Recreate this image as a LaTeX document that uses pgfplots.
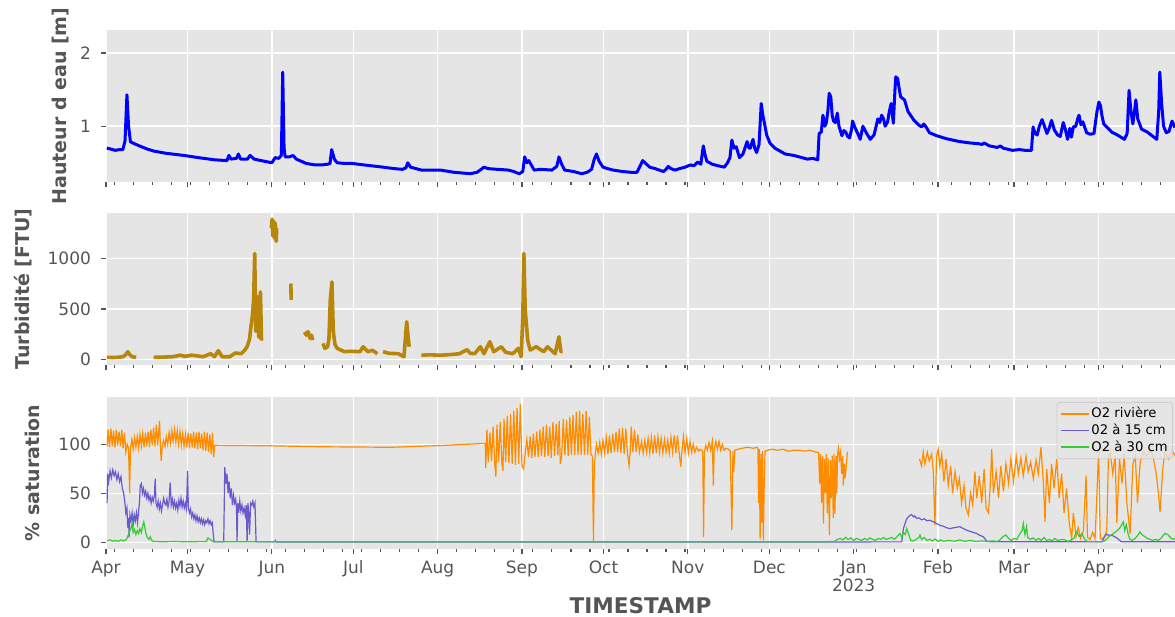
\documentclass[border=0pt]{standalone}
\usepackage{fontspec}
\setmainfont{DejaVu Sans}
\usepackage{pgfplots}
\pgfplotsset{compat=1.18}

\definecolor{ggbg}{HTML}{E5E5E5}
\definecolor{gggray}{HTML}{555555}
\definecolor{ggedge}{HTML}{CCCCCC}
\definecolor{hblue}{HTML}{0000FF}
\definecolor{turb}{HTML}{B8860B}
\definecolor{o2riv}{HTML}{FF8C00}
\definecolor{o2a}{HTML}{6A5ACD}
\definecolor{o2b}{HTML}{32CD32}

% x = days since 2022-04-01
\pgfplotsset{
  ggpanel/.style={
    scale only axis, width=534.5pt, height=76pt,
    anchor=south west,
    xmin=0, xmax=393.2,
    axis background/.style={fill=ggbg},
    axis line style={draw=none},
    grid=major, major grid style={white, line width=0.8pt},
    tick align=outside, xtick pos=left, ytick pos=left,
    major tick length=2.5pt, minor tick length=1.3pt,
    tick style={gggray, line width=0.6pt},
    tick label style={font=\fontsize{8.5}{9}\selectfont, text=gggray},
    yticklabel style={xshift=-1.5pt},
    xtick={0,30,61,91,122,153,183,214,244,275,306,334,365},
    minor xtick={3,10,...,388},
    ylabel style={font=\bfseries\fontsize{9.5}{11}\selectfont, text=gggray, anchor=center},
    scaled y ticks=false,
    unbounded coords=jump,
    /pgf/number format/1000 sep={},
    /pgf/number format/assume math mode=true,
  }
}

\begin{document}
\begin{tikzpicture}

% hauteur d'eau
\begin{axis}[ggpanel, at={(53pt,217.5pt)},
  ymin=0.237, ymax=2.315, ytick={1,2}, xticklabels={},
  ylabel={Hauteur d eau [m]},
  ylabel style={at={(axis description cs:-0.043,0.5)}}]
\addplot[hblue, line width=1.5pt, line join=round] coordinates {
(0.3,0.70) (1.5,0.69) (3.4,0.67) (5,0.68) (6.2,0.68) (7,0.80) (7.7,1.43) (8.3,1.0) (9.0,0.785)
(10.5,0.76) (12.3,0.73) (15,0.69) (17.5,0.66) (22,0.63) (28.7,0.60) (34,0.57) (40,0.54)
(44.5,0.53) (45.2,0.60) (46,0.55) (48,0.56) (48.7,0.62) (49.5,0.55) (52,0.55) (53,0.60)
(54.5,0.55) (57,0.53) (59.7,0.51) (61,0.50) (62.2,0.57) (63.5,0.56) (64.5,0.6) (65,1.74)
(65.5,0.7) (65.9,0.58) (67.5,0.58) (68.8,0.6) (70,0.55) (73.7,0.49) (77,0.47) (79.3,0.47)
(81.5,0.48) (82.4,0.49) (83,0.68) (84,0.55) (85,0.50) (88,0.49) (90.6,0.49) (95,0.47)
(101.9,0.44) (106,0.42) (109,0.41) (110.3,0.43) (111,0.50) (112,0.44) (113,0.43) (116,0.40)
(120,0.40) (123,0.40) (128,0.37) (134,0.35) (136.5,0.37) (138,0.41) (139,0.44) (140.5,0.42)
(144,0.41) (148,0.40) (150,0.38) (152,0.35) (153.3,0.38) (154,0.58) (154.8,0.50) (155.5,0.53)
(157.5,0.40) (160,0.41) (164,0.40) (165.8,0.45) (166.6,0.58) (167.6,0.48) (168.7,0.40)
(172,0.38) (175,0.35) (177,0.37) (178.6,0.41) (179.6,0.55) (180.4,0.62) (181.4,0.52)
(182.8,0.44) (184.5,0.42) (186.5,0.40) (190,0.38) (193,0.37) (195.3,0.37) (196.4,0.45)
(197.4,0.53) (198.5,0.49) (200,0.44) (202,0.42) (205,0.38) (206,0.41) (206.8,0.45)
(207.8,0.42) (209.3,0.40) (211,0.42) (213,0.44) (214.9,0.47) (216.3,0.46) (217.6,0.51)
(218.8,0.48) (219.7,0.73) (220.4,0.6) (221,0.52) (223,0.48) (225,0.46) (227.4,0.44)
(228.6,0.50) (229.5,0.57) (230.2,0.81) (231,0.70) (231.8,0.72) (233,0.57) (234.3,0.62)
(235.8,0.79) (236.5,0.70) (237,0.70) (237.6,0.78) (238,0.82) (238.6,0.70) (239.3,0.64)
(240.2,0.75) (241,1.31) (241.6,1.15) (242.3,1.02) (243,0.88) (244.2,0.77) (246,0.70)
(249.8,0.62) (253,0.60) (256,0.57) (258,0.55) (260,0.56) (261.8,0.54) (262.3,0.90)
(263.1,0.92) (263.7,1.15) (264.4,1.00) (264.9,1.04) (265.5,1.20) (266,1.45) (266.6,1.40)
(267.1,1.15) (267.6,1.07) (268.3,1.05) (269,1.18) (269.6,1.00) (270.7,0.87) (271.4,0.94)
(272.1,0.92) (272.8,0.86) (273.5,0.84) (274.2,0.95) (274.6,1.07) (275.5,0.98) (276.5,0.90)
(277.4,0.82) (278.4,1.00) (279.5,0.92) (281.1,0.82) (282.5,0.88) (283.9,1.10) (284.6,1.05)
(285.3,1.15) (286,1.10) (286.6,1.00) (287.5,1.06) (288.1,1.20) (288.8,1.31) (289.6,1.04)
(290.2,1.5) (290.5,1.675) (291.2,1.65) (291.8,1.50) (292.3,1.40) (293.7,1.36) (295,1.20)
(297.2,1.08) (298.8,1.02) (300,0.99) (300.8,1.03) (301.8,0.98) (302.9,0.91) (305.5,0.87)
(309,0.83) (313.9,0.79) (318,0.77) (321,0.76) (322.2,0.75) (323,0.77) (325,0.73)
(327.8,0.71) (329,0.73) (330,0.70) (333.4,0.67) (336,0.68) (338,0.67) (340.4,0.67)
(341,0.99) (341.7,0.90) (342.5,0.88) (343.3,1.0) (344.3,1.09) (345,1.02) (346.1,0.90)
(347,0.98) (347.8,1.08) (348.8,0.95) (350,0.88) (351,0.86) (352.1,1.05) (352.9,0.95)
(353.7,0.82) (354.5,0.97) (355.1,0.85) (355.8,0.99) (356.7,1.0) (357.4,1.10) (357.9,1.15)
(358.6,1.02) (359.3,1.06) (360.7,0.91) (362,0.89) (363.4,0.90) (364.5,1.20) (365.2,1.33)
(365.8,1.28) (366.3,1.15) (367,1.03) (369.9,0.92) (372,0.88) (374.6,0.82) (375.6,0.90)
(376.3,1.49) (377,1.20) (377.7,1.03) (378.3,1.2) (378.8,1.36) (379.5,1.10) (380.9,0.96)
(383,0.92) (386.5,0.82) (387.2,1.2) (387.6,1.74) (388.3,1.30) (389,1.0) (390,0.91)
(391,0.93) (392.1,1.07) (393.2,0.98)
};
\end{axis}

% turbidite
\begin{axis}[ggpanel, at={(53pt,126pt)},
  ymin=-56, ymax=1451, ytick={0,500,1000}, xticklabels={},
  ylabel={Turbidité [FTU]},
  ylabel style={at={(axis description cs:-0.0776,0.5)}}]
\addplot[turb, line width=1.8pt, line join=round] coordinates {
(0.3,20) (3,18) (6.2,26) (7.2,45) (8,75) (8.8,45) (9.6,26) (11.1,20) (11.5,nan)
(17.5,20) (21,22) (24.5,26) (27.3,41) (29,30) (31.5,41) (33.5,35) (35.7,26) (37,40)
(38.5,56) (39.9,26) (41.3,86) (42.7,26) (45.5,26) (47.6,63) (49.7,56) (51,90) (51.9,125)
(52.8,200) (53.3,323) (53.8,420) (54.3,587) (54.7,1050) (55.1,277) (55.7,620) (56.2,220)
(56.5,500) (56.8,670) (57.2,185) (57.5,nan)
(60.8,1300) (61.1,1390) (61.4,1220) (61.7,1370) (62,1200) (62.3,1350) (62.6,1170) (62.8,1300) (63,nan)
(68,752) (68.1,590) (68.2,nan)
(73,270) (73.7,240) (74.3,275) (75,210) (75.6,240) (76,190) (76.3,nan)
(79.8,158) (80.5,109) (81.5,125) (82,200) (82.5,587) (83.1,768) (83.6,277) (84.2,150)
(85,109) (87.8,76) (90,80) (93.4,76) (94.6,125) (96.3,76) (98,90) (99.8,56) (100.2,nan)
(101.9,76) (104,60) (107.5,56) (109.6,26) (110.6,372) (111.5,125) (111.8,nan)
(116,41) (119,45) (123,41) (127,48) (130,56) (132.8,96) (134,60) (135.6,56) (137.7,125)
(139,56) (141.2,175) (142.6,76) (145.4,125) (147,70) (149.6,56) (151.7,109) (152.7,26)
(153.3,400) (153.7,1050) (154.2,490) (155.1,191) (156,92) (158.2,125) (161,76) (162.4,125)
(165.2,56) (166.6,224) (167.3,76) (168,76)
};
\end{axis}

% oxygene
\begin{axis}[ggpanel, at={(53pt,34pt)},
  ymin=-6.8, ymax=148.3, ytick={0,50,100},
  xticklabels={Apr,May,Jun,Jul,Aug,Sep,Oct,Nov,Dec,{Jan\\2023},Feb,Mar,Apr},
  xticklabel style={align=center},
  ylabel={\% saturation},
  ylabel style={at={(axis description cs:-0.0688,0.5)}},
  xlabel={TIMESTAMP},
  xlabel style={at={(axis description cs:0.5,-0.372)}, anchor=center, inner sep=0pt,
    font=\bfseries\fontsize{10.8}{12}\selectfont, text=gggray},
  legend style={at={(0.998,0.967)}, anchor=north east, fill=ggbg, fill opacity=0.8,
    text opacity=1, draw=ggedge, rounded corners=1.5pt,
    font=\fontsize{6.6}{7.6}\selectfont, row sep=0pt, inner sep=1.5pt,
    nodes={inner sep=0.8pt}},
  legend cell align=left,
  legend image code/.code={\draw[#1, line width=0.9pt] (0pt,0pt) -- (14pt,0pt);}]
\addplot[o2riv, line width=0.6pt] coordinates {
(0.4,98) (0.8,115) (1.3,97) (1.8,116) (2.3,98) (2.8,114) (3.3,97) (3.8,115) (4.3,99) (4.8,113)
(5.3,98) (5.8,115) (6.3,96) (6.8,112) (7.3,92) (7.8,100) (8.3,96) (8.7,50) (9.0,96) (9.5,105)
(10.0,95) (10.5,107) (11.0,97) (11.5,108) (12.0,96) (12.5,110) (13.0,98) (13.5,111) (14.0,97)
(14.5,112) (15.0,98) (15.5,113) (16.0,97) (16.5,115) (17.0,99) (17.5,117) (18.0,98) (18.5,120)
(19.0,99) (19.7,124) (20.0,98) (20.3,83) (20.7,99) (21.2,104) (21.7,98) (22.2,108) (22.7,100)
(23.2,112) (23.7,101) (24.2,114) (24.7,103) (25.2,115) (25.7,102) (26.2,114) (26.7,100)
(27.2,113) (27.7,99) (28.2,111) (28.7,98) (29.2,110) (29.7,97) (30.2,112) (30.7,96) (31.2,111)
(31.7,97) (32.2,113) (32.7,96) (33.2,112) (33.7,95) (34.2,113) (34.7,96) (35.2,111) (35.7,94)
(36.2,113) (36.7,93) (37.2,112) (37.7,92) (38.2,110) (38.7,90) (39.2,112) (39.6,87) (40.0,99)
(60,98.5) (80,97.5) (105,97) (125,99) (139.5,101)
(139.7,76) (140.1,115) (140.6,82) (141.2,112) (141.8,83) (142.4,118) (143.0,80) (143.4,67)
(143.8,120) (144.4,82) (145.0,123) (145.6,81) (146.0,73) (146.4,126) (147.0,82) (147.6,129)
(148.2,81) (148.8,131) (149.4,80) (150.0,134) (150.6,79) (151.2,137) (151.8,80) (152.4,141)
(153.0,78) (153.6,75) (154.0,86)
(154.8,105) (155.4,87) (156.0,108) (156.6,86) (157.2,111) (157.8,87) (158.4,113) (159.0,87)
(159.6,115) (160.2,88) (160.8,118) (161.4,87) (162.0,120) (162.6,88) (163.2,118) (163.8,86)
(164.4,123) (165.0,88) (165.6,121) (166.2,89) (166.7,124) (167.1,80) (167.6,88) (168.2,126)
(168.8,89) (169.4,125) (170.0,88) (170.6,128) (171.2,89) (171.8,130) (172.4,89) (173.0,133)
(173.6,89) (174.2,134) (174.8,89) (175.4,131) (176.0,89) (176.6,134) (177.2,89) (177.8,128)
(178.4,89) (178.9,88) (179.3,0.6) (179.6,78) (180.0,90)
(180.4,100) (181.0,91) (181.6,102) (182.2,90) (182.8,104) (183.4,91) (184.0,107) (184.6,90)
(185.2,109) (185.8,91) (186.4,111) (187.0,92) (187.6,113) (188.2,92) (188.8,116) (189.4,91)
(190.0,117) (190.6,90) (191.2,116) (191.8,91) (192.4,78) (192.8,92) (193.2,118) (193.8,92)
(194.4,115) (195.0,92) (195.6,110) (196.2,92)
(197.0,103) (197.6,91) (198.2,104) (198.8,92) (199.4,106) (200.0,91) (200.6,107) (201.2,90)
(201.8,109) (202.4,91) (203.0,108) (203.6,92) (204.2,106) (204.8,91) (205.4,105) (206.0,92)
(206.6,104) (207.2,91) (207.8,107) (208.4,92) (209.0,109) (209.6,91) (210.2,109) (210.8,92)
(211.4,77) (211.8,92) (212.4,108) (213.0,92) (213.6,106) (214.2,91) (214.8,103) (215.4,92)
(216.0,100) (216.6,92) (217.2,97) (218.0,93) (218.6,95) (219.5,93) (219.8,5.7) (220.1,92)
(220.6,99) (221.2,94) (221.8,102) (222.4,94) (223.0,103) (223.4,58) (223.7,95) (224.3,103)
(224.9,95) (225.5,103) (226.1,94) (226.7,100) (227.3,94) (228.0,96) (229.0,95) (229.6,93)
(230.2,12.5) (230.6,93) (230.9,71.6) (231.3,94) (232.5,95) (234,96) (236,97) (238,96)
(239.5,97) (239.8,95) (240.0,40) (240.3,95) (240.6,3) (240.9,90) (241.2,20) (241.5,93)
(241.8,2) (242.1,60) (242.4,93) (243.5,94) (245,95) (247,94) (249,95) (251,93) (253,94)
(255,94) (257,93) (259,94) (261,92)
(262.1,92) (262.5,60) (262.8,90) (263.2,40) (263.5,88) (263.9,19) (264.2,85) (264.6,50)
(264.9,90) (265.3,30) (265.6,86) (266.1,7) (266.4,84) (266.8,45) (267.1,88) (267.5,25)
(267.8,90) (268.1,29) (268.5,88) (268.8,50) (269.1,90) (269.4,96) (269.8,85) (270.2,92)
(270.6,70) (271.0,88) (271.2,58) (271.5,80) (271.8,65) (272.2,75) (272.7,92) (273,nan)
(299.2,85) (300.0,78) (300.6,92) (301.2,80) (302.1,92) (302.8,83) (303.7,90) (304.3,72)
(304.9,17.5) (305.5,88) (306.1,95) (306.7,78) (307.4,90) (308.2,62) (309.0,85) (309.8,58)
(310.7,78) (311.4,50) (312.3,72) (313.1,55) (313.9,65) (314.7,40) (315.6,58) (316.3,35)
(317.2,28) (318.0,50) (318.8,38) (319.6,72) (320.3,45) (321.2,68) (322.1,40) (323.0,75)
(323.7,35) (324.6,30) (325.2,55) (325.8,95) (326.4,50) (327.4,72) (328.3,45) (329.1,78)
(330.1,52) (331.0,80) (332.0,60) (332.8,85) (333.8,62) (334.8,88) (335.6,70) (336.5,86)
(337.4,68) (338.4,88) (339.2,72) (340.1,82) (341.1,65) (342.1,84) (342.9,70) (343.9,97)
(344.8,60) (345.4,21) (346.0,75) (347.0,40) (347.8,80) (348.7,55) (349.7,85) (350.6,45)
(351.5,70) (352.4,30) (353.3,55) (354.3,20) (355.2,4) (355.8,30) (356.8,6) (357.6,15)
(358.5,4) (359.5,12) (360.5,68) (361.0,5) (362.0,3) (362.9,10) (363.8,4) (364.5,50)
(365.1,94) (365.7,4) (366.9,3) (368.1,12) (368.7,85) (369.4,92) (370.3,70) (371.2,88)
(371.8,20) (372.8,85) (373.7,60) (374.5,90) (375.5,40) (376.7,9) (377.7,80) (378.6,88)
(379.4,40) (380.4,82) (381.6,92) (382.8,88) (384.1,95) (385.3,85) (386.3,70) (387.1,50)
(387.7,31) (388.7,75) (389.5,92) (390.8,85) (392.0,95) (393.2,88)
};
\addlegendentry{O2 rivière}
\addplot[o2a, line width=0.6pt] coordinates {
(0.4,40) (0.6,70) (1.0,62) (1.5,73) (2.0,66) (2.5,74) (3.0,68) (3.5,72) (4.0,64) (4.5,70)
(5.0,62) (5.5,67) (6.0,55) (6.5,50) (6.9,42) (7.3,30) (7.7,35) (8.0,15) (8.3,25) (8.5,5)
(8.8,28) (9.2,22) (9.6,30) (10.0,18) (10.4,28) (10.8,22) (11.2,30) (11.6,20) (12.0,32)
(12.3,40) (12.6,58) (13.0,60) (13.4,50) (13.8,55) (14.2,48) (14.6,52) (15.0,45) (15.4,50)
(15.8,43) (16.2,47) (16.6,40) (17.0,46) (17.4,42) (17.8,48) (18.1,65) (18.4,40) (18.8,36)
(19.2,42) (19.6,34) (20.0,40) (20.4,32) (20.8,38) (21.2,45) (21.6,40) (22.0,38) (22.4,44)
(22.8,36) (23.2,42) (23.6,61) (24.0,38) (24.4,44) (24.8,36) (25.2,42) (25.6,35) (26.0,40)
(26.4,33) (26.8,43) (27.2,37) (27.6,45) (28.0,36) (28.4,42) (28.8,35) (29.2,40) (29.6,34)
(30.0,73) (30.3,35) (30.7,30) (31.1,34) (31.5,26) (31.9,30) (32.3,24) (32.7,28) (33.1,22)
(33.5,27) (33.9,21) (34.3,25) (34.7,20) (35.1,24) (35.5,19) (35.9,23) (36.3,18) (36.7,22)
(37.1,20) (37.5,24) (37.9,19) (38.3,22) (38.7,18) (39.1,20) (39.4,10) (39.7,2) (40.0,0.5)
(43.3,0.5) (43.5,40) (43.7,76.7) (44.1,60) (44.5,70) (44.9,50) (45.3,62) (45.7,45) (46.1,55)
(46.5,38) (46.9,48) (47.3,40) (47.7,44) (48.0,35) (48.2,0.5) (48.5,40) (48.8,30) (49.2,42)
(49.6,32) (50.0,38) (50.4,30) (50.8,35) (51.2,28) (51.6,38) (51.9,0.5) (52.2,40) (52.5,30)
(52.8,8) (53.2,40) (53.6,38) (54.0,42) (54.4,36) (54.8,40) (55.2,0.5) (62,0.5) (62.3,2)
(62.6,0.3) (150,0.3) (250,0.3) (292.7,0.5) (293.3,14) (294.5,24) (295.5,27) (296.3,28.4)
(297,26) (297.5,27) (298.2,24.3) (299,25) (300,23) (301,24) (302,22) (303,22.5) (304.3,21)
(305,20) (306,18.5) (307,17) (308,16.5) (309,15) (310.4,14) (312,15) (314.1,16) (315,14.5)
(316.5,12.5) (318,11) (320.2,9.1) (321.5,7) (322.7,5.7) (323.9,1.3) (325,0.5) (366.5,0.5)
(366.8,4) (368.0,8.4) (369.0,7) (369.9,7.4) (371.7,4.7) (373.5,0.6) (393.2,0.5)
};
\addlegendentry{02 à 15 cm}
\addplot[o2b, line width=0.6pt] coordinates {
(0.4,1.5) (1.5,2.5) (2.5,1.2) (3.5,2) (4.5,1) (5.5,2.5) (6.5,1.5) (7.5,3) (8.3,8) (8.8,12)
(9.2,14) (9.6,19.3) (10.0,10) (10.5,13) (11.0,8) (11.5,12) (12.0,9) (12.5,14) (13.0,10)
(13.5,17) (13.9,20.9) (14.3,15) (14.7,9) (15.2,5) (15.8,3) (16.3,5.7) (16.8,2) (17.5,1)
(20,0.6) (25,0.8) (30,0.6) (37,0.8) (37.2,3) (37.5,4.5) (38.2,3) (38.8,2) (39.4,0.6)
(100,0.6) (200,0.6) (265,0.6) (268,1) (269,3) (270,4) (271,2.5) (272,5) (273,3) (274,4.5)
(275,2) (276,4) (277,3) (278,2) (279,4) (280,2.5) (281,4.5) (282,3) (283,2) (284,4) (285,3)
(286,5) (287,3) (288,4) (289,5) (290,3) (291,6) (292,9) (292.7,5) (293.3,10) (294,8)
(294.5,14.2) (295,10) (295.5,6) (296,2) (297,1.5) (298,3) (299,5) (299.4,7.4) (300,3)
(301,5) (302,2) (303,3) (304,1.5) (305,3.5) (306,1) (307,2.5) (308,1) (310,2) (312,1)
(314,2.5) (316,1) (318,2) (320,0.8) (322,1.5) (324,0.8) (326,1.5) (328,1) (329,3) (330,6)
(331,7.4) (332,4) (333,2) (334,4) (335,3) (336,8) (337,12) (337.4,19.3) (338,8) (338.6,16)
(339,5) (340,3) (341,4.5) (342,2) (343,4) (344,2) (345,5) (346,2) (347,3) (348,1.5) (349,4)
(350,2) (352,3) (354,1) (356,4) (357,10.7) (358,6) (359,9) (360,3) (361,1) (363,0.8)
(365,0.6) (367,1) (368,3) (369,6) (370,8) (371,10) (372,12) (373,15) (374.2,20.9)
(374.7,12) (375.3,18) (376,8) (376.6,3) (377.5,2) (378.5,4) (379.5,7) (380.3,10.7) (381,8)
(382,6) (383,4) (384,3) (385,2) (386,3) (387,2) (388,4) (389.5,9.1) (390.5,8) (391.5,5)
(392.5,3) (393.2,4)
};
\addlegendentry{O2 à 30 cm}
\end{axis}

\pgfresetboundingbox
\useasboundingbox (0,0) rectangle (587.5pt,308.5pt);
\end{tikzpicture}
\end{document}
